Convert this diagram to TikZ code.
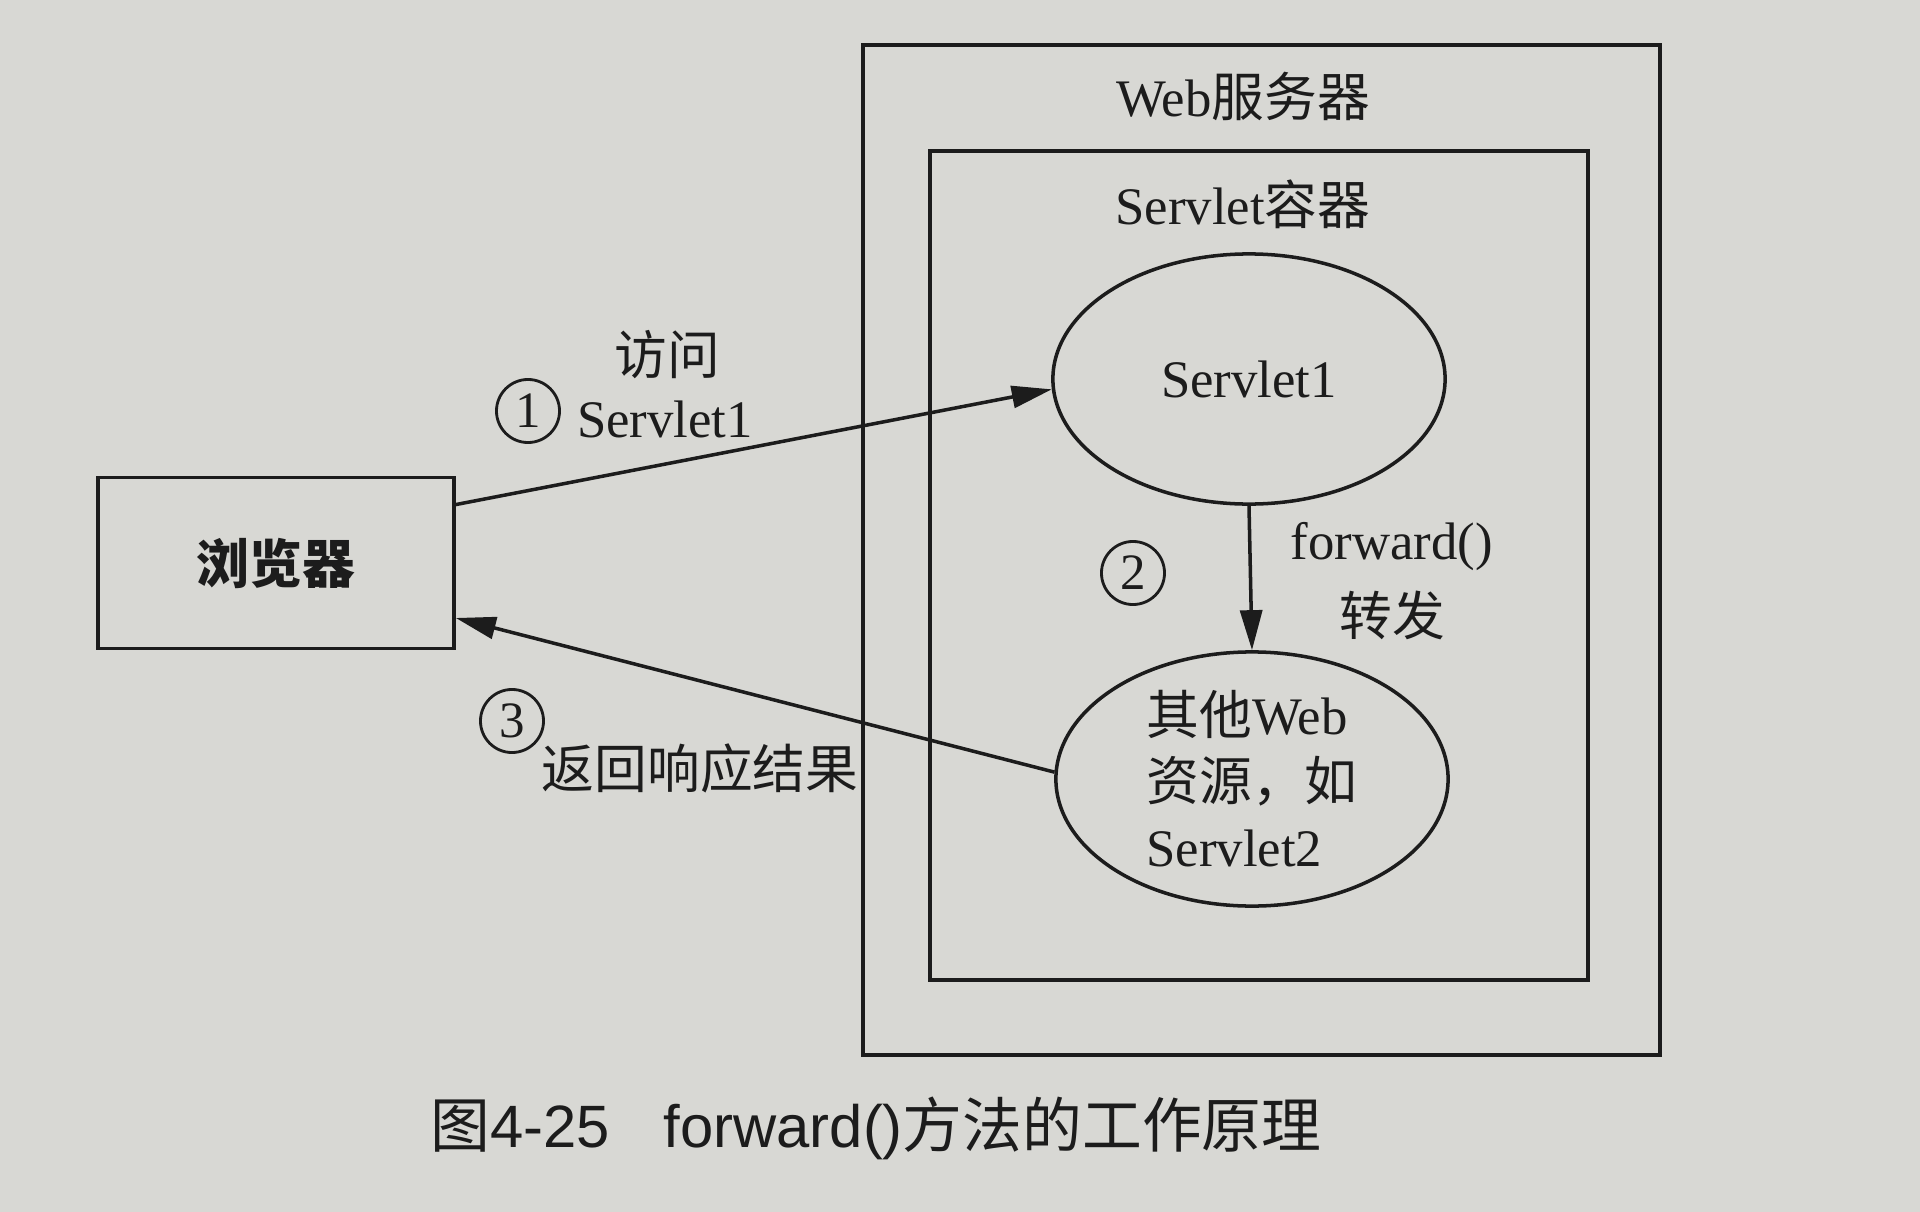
\documentclass[tikz,border=0pt]{standalone}
\usepackage{fontspec}
\usepackage{xcolor}
\setmainfont{Liberation Serif}
\newfontfamily\capfont{Liberation Sans}
\newfontfamily\cjk{Noto Sans CJK SC}
\usetikzlibrary{shapes.geometric,arrows.meta}
\newcommand{\zh}[1]{{\cjk #1}}

\begin{document}
\begin{tikzpicture}[x=0.01cm, y=-0.01cm,
    ink/.style={draw=Ink, line width=1pt},
    lbl/.style={text=Ink, font=\fontsize{15}{18.8}\selectfont, inner sep=0pt},
    numcirc/.style={draw=Ink, line width=0.8pt, circle, minimum size=0.63cm, inner sep=0pt, text=Ink, font=\fontsize{14.5}{14.5}\selectfont},
    oval/.style={ink, ellipse, inner sep=0pt, text=Ink, font=\fontsize{15}{18.8}\selectfont},
    arr/.style={ink, -{Triangle[length=0.4cm,width=0.22cm]}}]
    \definecolor{Paper}{RGB}{216,216,212}
    \definecolor{Ink}{RGB}{28,28,28}
    \fill[Paper] (0,0) rectangle (1920,1212);
    \useasboundingbox (0,0) rectangle (1920,1212);
    \draw[ink] (863,45) rectangle (1660,1055);
    \draw[ink] (930,151) rectangle (1588,980);
    \node[lbl] (webtitle) at (1243,96) {Web\zh{服务器}};
    \node[lbl] (containertitle) at (1243,204) {Servlet\zh{容器}};
    \node[ink, minimum width=3.56cm, minimum height=1.71cm, text=Ink, font=\fontsize{15}{18.8}\selectfont] (browser) at (276,563) {\zh{\bfseries 浏览器}};
    \node[oval, minimum width=3.92cm, minimum height=2.5cm] (servletone) at (1249,379) {Servlet1};
    \node[oval, minimum width=3.92cm, minimum height=2.54cm, align=left] (otherres) at (1252,779) {\zh{其他}Web\\\zh{资源，如}\\Servlet2};
    \draw[arr] (browser.18) -- (servletone.183);
    \draw[arr] (servletone.south) -- (otherres.north);
    \draw[arr] (otherres.178) -- (browser.-17);
    \node[lbl] (visit) at (667,355) {\zh{访问}};
    \node[numcirc] (numone) at (528,411) {1};
    \node[lbl] (visittarget) at (665,419) {Servlet1};
    \node[numcirc] (numtwo) at (1133,573) {2};
    \node[lbl] (fwdcall) at (1392,547) {forward()};
    \node[lbl] (fwdtext) at (1392,615) {\zh{转发}};
    \node[numcirc] (numthree) at (512,721) {3};
    \node[lbl] (reply) at (700,768) {\zh{返回响应结果}};
    \node[text=Ink, font=\capfont\fontsize{17}{20}\selectfont, inner sep=0pt] (figcap) at (876,1128) {\zh{图}4-25\hspace{0.9em}forward()\zh{方法的工作原理}};
\end{tikzpicture}
\end{document}
